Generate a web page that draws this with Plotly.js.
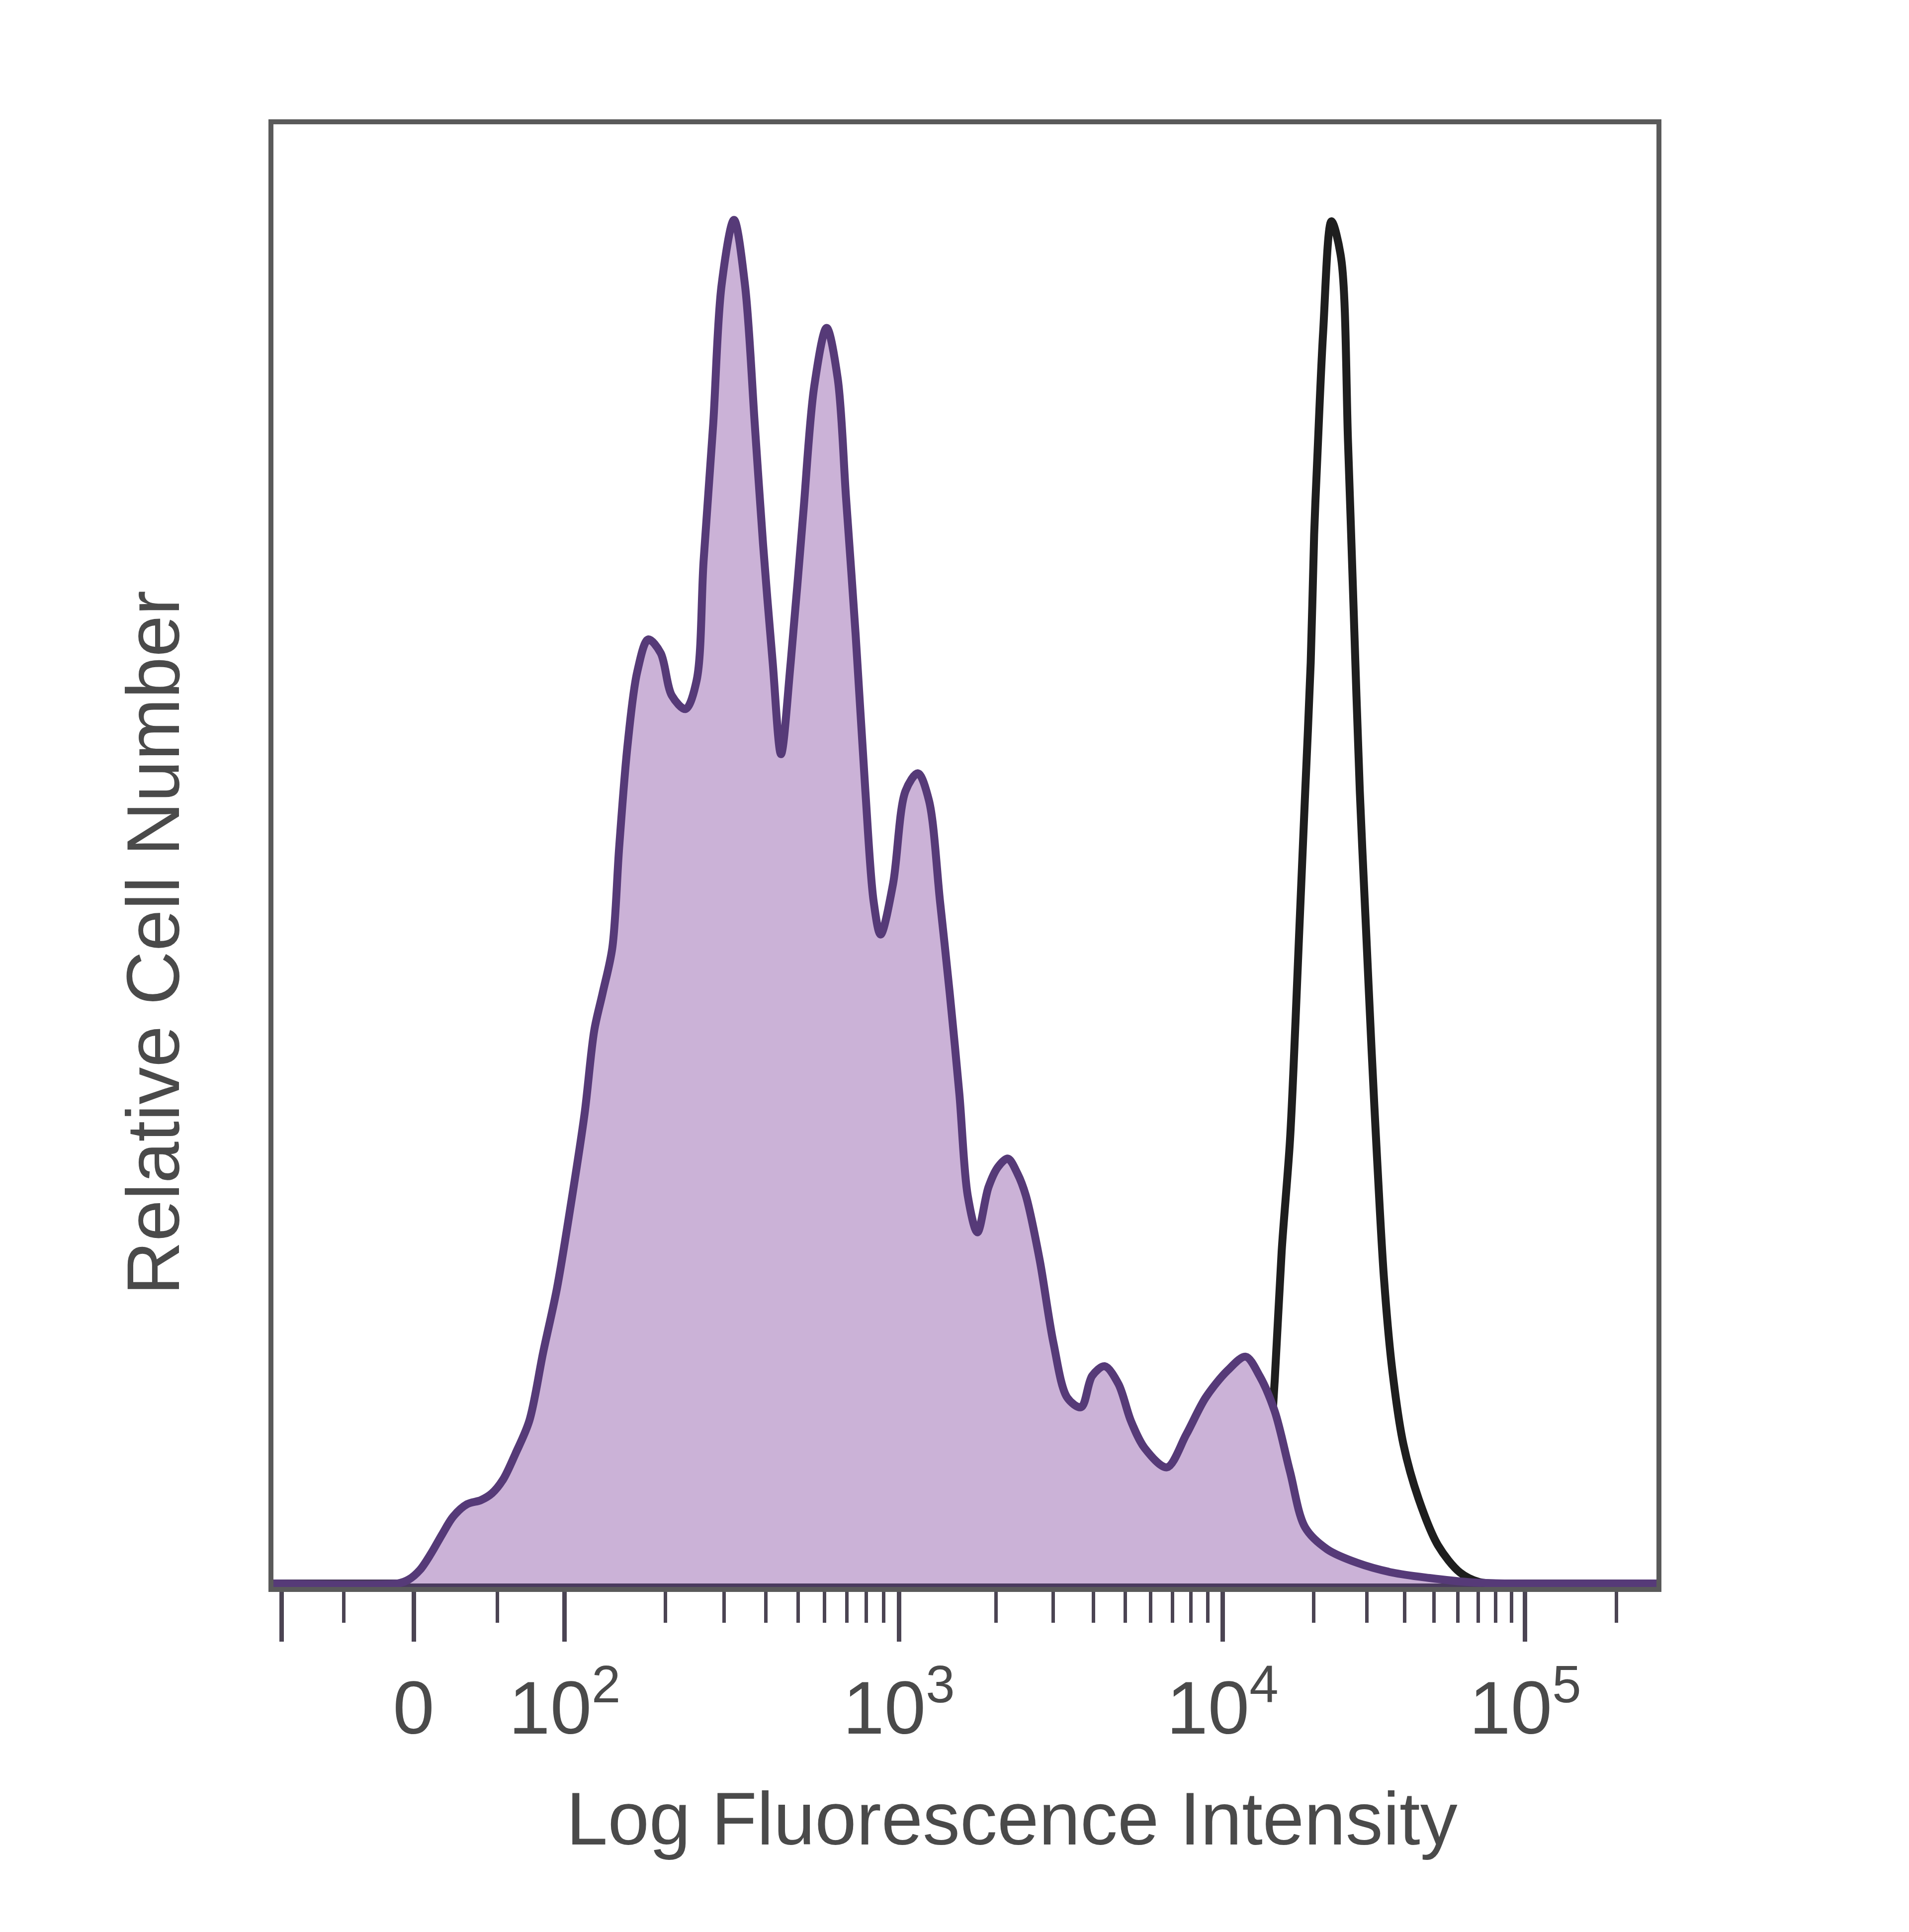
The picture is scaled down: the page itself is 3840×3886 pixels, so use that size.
<!DOCTYPE html>
<html>
<head>
<meta charset="utf-8">
<script src="https://cdn.plot.ly/plotly-3.0.1.min.js"></script>
<style>
  html, body { margin: 0; padding: 0; background: #ffffff; }
  #chart { width: 3840px; height: 3886px; }
</style>
</head>
<body>
<div id="chart"></div>
<script>
// x values are display channels (0-1000) of the biexponential fluorescence axis
// y values are relative cell number (tallest peak = 100)

// Stained sample (filled purple histogram)
const stainedX = [0, 90, 98, 106, 114, 122, 130, 140, 150, 158,
                  166, 175, 185, 195, 205, 215, 225, 232, 238, 245,
                  250, 256, 263, 271, 280, 288, 298, 306, 311, 318,
                  324, 333, 341, 348, 354, 361, 367, 374, 383, 391,
                  400, 408, 414, 421, 428, 434, 439, 448, 457, 466,
                  474, 482, 489, 496, 502, 509, 517, 524, 531, 538,
                  544, 554, 564, 574, 584, 592, 601, 611, 620, 630,
                  646, 660, 674, 690, 703, 713, 724, 735, 746, 762,
                  784, 809, 836, 864, 890, 1000];
const stainedY = [0, 0, 0.3, 1.0, 2.2, 3.6, 4.9, 5.8, 6.1, 6.6,
                  7.6, 9.5, 11.9, 16.9, 21.6, 27.7, 34.4, 40.5, 43.2, 46.5,
                  53.9, 61.3, 66.7, 69.1, 68.1, 65.0, 64.0, 66.1, 74.8, 84.9,
                  95.0, 99.8, 95.0, 84.9, 76.1, 67.4, 60.7, 67.4, 78.2, 87.6,
                  91.9, 88.2, 79.5, 69.4, 58.0, 49.9, 47.5, 51.2, 58.0, 59.3,
                  57.3, 49.9, 43.2, 35.8, 28.4, 25.7, 29.0, 30.5, 31.1, 30.0,
                  28.4, 23.7, 17.6, 13.6, 12.9, 15.2, 15.9, 14.6, 11.9, 9.9,
                  8.5, 10.9, 13.6, 15.6, 16.6, 15.2, 12.6, 8.2, 4.1, 2.5,
                  1.5, 0.8, 0.4, 0.1, 0, 0];

// Second sample (open black histogram)
const openX = [700, 705, 713, 719, 724, 729, 735, 739,
               741.5, 746, 750, 752.5, 755, 759, 765, 772, 777, 781,
               785.5, 790, 794, 798, 803, 809, 817, 828, 842, 858,
               872, 885];
const openY = [1.0, 1.5, 4.0, 8.0, 14.9, 24.3, 32.4, 41.1,
               47.2, 57.9, 67.4, 76.8, 82.9, 91.6, 99.7, 97.0, 83.5, 71.4,
               58.0, 47.9, 39.1, 31.1, 22.3, 15.6, 10.2, 6.2, 2.8, 0.8,
               0.1, 0];

// Axis ticks (display channel positions) and labels
const majorTickPos  = [6, 101.4, 210.6, 452.2, 686.2, 905.1];
const majorTickText = ['', '0', '10<sup>2</sup>', '10<sup>3</sup>', '10<sup>4</sup>', '10<sup>5</sup>'];
const linearMinorPos = [50.7, 161.8];
const decadePos = [210.6, 452.2, 686.2, 905.1];

// Minor ticks 2x..9x inside each logarithmic decade
const minorTickPos = linearMinorPos.slice();
for (let d = 0; d < decadePos.length; d++) {
  const span = d < decadePos.length - 1 ? decadePos[d + 1] - decadePos[d] : decadePos[d] - decadePos[d - 1];
  for (let m = 2; m <= 9; m++) {
    const p = decadePos[d] + Math.log10(m) * span;
    if (p < 1000) minorTickPos.push(p);
  }
}

const FONT = 'Liberation Sans, Arial, sans-serif';
const TEXT_COLOR = '#4a4a4a';

const traces = [
  {
    x: openX, y: openY, type: 'scatter', mode: 'lines',
    line: { color: '#1e1e1e', width: 16, shape: 'spline', smoothing: 0.9 },
    hoverinfo: 'skip'
  },
  {
    x: stainedX, y: stainedY, type: 'scatter', mode: 'lines',
    fill: 'tozeroy', fillcolor: '#cbb2d7',
    line: { color: '#563a78', width: 16, shape: 'spline', smoothing: 0.9 },
    hoverinfo: 'skip'
  }
];

const layout = {
  width: 3840, height: 3886,
  margin: { l: 550, r: 508, t: 250, b: 694, pad: 0 },
  paper_bgcolor: '#ffffff', plot_bgcolor: '#ffffff',
  showlegend: false,
  font: { family: FONT, color: TEXT_COLOR },
  xaxis: {
    range: [0, 1000], showgrid: false, zeroline: false,
    showline: true, mirror: true, linecolor: '#5a5a5a', linewidth: 10,
    ticks: 'outside', ticklen: 100, tickwidth: 9, tickcolor: '#4b4453',
    tickmode: 'array', tickvals: majorTickPos, ticktext: majorTickText,
    tickfont: { family: FONT, size: 150, color: TEXT_COLOR },
    ticklabelstandoff: 5,
    minor: { tickmode: 'array', tickvals: minorTickPos, ticks: 'outside',
             ticklen: 62, tickwidth: 7, tickcolor: '#4b4453', showgrid: false }
  },
  yaxis: {
    range: [-0.255, 106.8], showgrid: false,
    zeroline: true, zerolinecolor: '#4a3a5e', zerolinewidth: 16,
    layer: 'above traces',
    showline: true, mirror: true, linecolor: '#5a5a5a', linewidth: 10,
    ticks: '', showticklabels: false
  },
  annotations: [
    {
      text: 'Log Fluorescence Intensity', xref: 'paper', yref: 'paper',
      x: 0.534, y: -0.1584, xanchor: 'center', yanchor: 'middle',
      showarrow: false, font: { family: FONT, size: 150, color: TEXT_COLOR }
    },
    {
      text: 'Relative Cell Number', xref: 'paper', yref: 'paper',
      x: -0.087, y: 0.4405, xanchor: 'center', yanchor: 'middle', textangle: -90,
      showarrow: false, font: { family: FONT, size: 150, color: TEXT_COLOR }
    }
  ]
};

Plotly.newPlot('chart', traces, layout, { staticPlot: true, displayModeBar: false });
</script>
</body>
</html>
